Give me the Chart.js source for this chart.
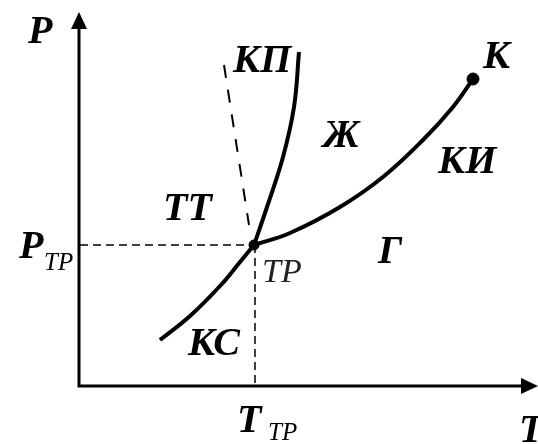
<!DOCTYPE html>
<html>
<head>
<meta charset="utf-8">
<script src="https://cdn.jsdelivr.net/npm/chart.js"></script>
<style>
  html, body { margin: 0; background: #fff; }
  #wrap { width: 538px; height: 444px; }
</style>
</head>
<body>
<div id="wrap"><canvas id="chart"></canvas></div>
<script>
// phase curves, T and P in plot units (origin = corner of the axes)
const meltT = [175, 188, 204, 215, 220];
const meltP = [141, 179, 229, 279, 334];
const vapT = [175, 211, 261, 304, 344, 374, 394];
const vapP = [141, 153, 179, 209, 246, 279, 307];
const sublT = [81, 111, 141, 161, 175];
const sublP = [46, 70, 100, 124, 141];
// dashed (anomalous) melting line
const anomT = [145, 170];
const anomP = [321, 161];
// triple point and critical point
const pointT = [175, 394];
const pointP = [141, 307];

function xy(ts, ps) {
  return ts.map(function(t, i) { return { x: t, y: ps[i] }; });
}

const font = '"Liberation Serif", "Times New Roman", serif';

const drawExtras = {
  id: 'drawExtras',
  afterDatasetsDraw: function(chart) {
    const ctx = chart.ctx;
    const sx = chart.scales.x, sy = chart.scales.y;
    function px(t) { return sx.getPixelForValue(t); }
    function py(p) { return sy.getPixelForValue(p); }
    ctx.save();
    // axes with arrows
    ctx.strokeStyle = '#000';
    ctx.fillStyle = '#000';
    ctx.lineWidth = 3;
    ctx.beginPath();
    ctx.moveTo(px(0), py(360));
    ctx.lineTo(px(0), py(0));
    ctx.lineTo(px(446), py(0));
    ctx.stroke();
    ctx.beginPath();
    ctx.moveTo(px(0), py(374));
    ctx.lineTo(px(0) - 8, py(357));
    ctx.lineTo(px(0) + 8, py(357));
    ctx.closePath();
    ctx.fill();
    ctx.beginPath();
    ctx.moveTo(px(459), py(0));
    ctx.lineTo(px(442), py(0) - 8);
    ctx.lineTo(px(442), py(0) + 8);
    ctx.closePath();
    ctx.fill();

    // labels
    ctx.textBaseline = 'alphabetic';
    ctx.textAlign = 'left';
    ctx.font = 'italic bold 40px ' + font;
    const big = [
      ['P', -51, 343], ['КП', 154, 314], ['К', 404, 318], ['Ж', 244, 239],
      ['КИ', 359, 213], ['ТТ', 84, 166], ['Г', 299, 123], ['КС', 109, 31],
      ['P', -60, 128], ['T', 158, -46], ['T', 440, -56]
    ];
    big.forEach(function(l) { ctx.fillText(l[0], px(l[1]), py(l[2])); });
    ctx.font = 'italic 25px ' + font;
    ctx.fillText('ТР', px(-35), py(116));
    ctx.fillText('ТР', px(189), py(-54));
    ctx.fillStyle = '#222';
    ctx.font = 'italic 34px ' + font;
    ctx.fillText('ТР', px(183), py(104));
    ctx.restore();
  }
};

const solid = { borderColor: '#000', borderWidth: 4, pointRadius: 0, showLine: true, tension: 0.4, fill: false };

new Chart(document.getElementById('chart'), {
  type: 'scatter',
  data: {
    datasets: [
      Object.assign({ data: xy(meltT, meltP) }, solid),
      Object.assign({ data: xy(vapT, vapP) }, solid),
      Object.assign({ data: xy(sublT, sublP) }, solid),
      { data: xy(anomT, anomP), borderColor: '#000', borderWidth: 2, borderDash: [13, 12], pointRadius: 0, showLine: true },
      { data: [{ x: 1, y: pointP[0] }, { x: pointT[0], y: pointP[0] }], borderColor: '#000', borderWidth: 1.5, borderDash: [8, 5], pointRadius: 0, showLine: true },
      { data: [{ x: pointT[0] + 1, y: pointP[0] }, { x: pointT[0] + 1, y: 1 }], borderColor: '#000', borderWidth: 1.5, borderDash: [8, 5], pointRadius: 0, showLine: true },
      { data: xy(pointT, pointP), backgroundColor: '#000', borderColor: '#000', pointRadius: [5, 6], showLine: false }
    ]
  },
  options: {
    responsive: true,
    maintainAspectRatio: false,
    animation: false,
    layout: { padding: 0, autoPadding: false },
    plugins: { legend: { display: false }, tooltip: { enabled: false } },
    scales: {
      x: { type: 'linear', display: false, min: -79, max: 459 },
      y: { type: 'linear', display: false, min: -58, max: 386 }
    }
  },
  plugins: [drawExtras]
});
</script>
</body>
</html>
